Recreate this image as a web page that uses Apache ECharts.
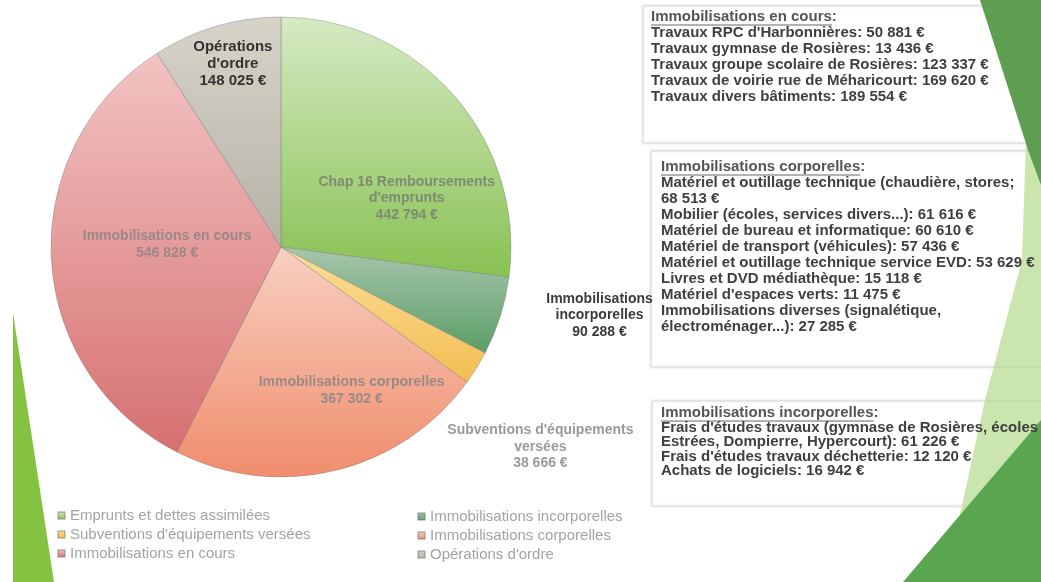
<!DOCTYPE html>
<html>
<head>
<meta charset="utf-8">
<script src="https://cdn.jsdelivr.net/npm/echarts@6/dist/echarts.min.js"></script>
<style>
  html, body { margin: 0; padding: 0; background: #fff; }
  #main { width: 1041px; height: 582px; }
</style>
</head>
<body>
<div id="main"></div>
<script>
// slices, clockwise from 12 o'clock
const sliceNames = ['Emprunts et dettes assimilées', 'Immobilisations incorporelles', "Subventions d'équipements versées",
  'Immobilisations corporelles', 'Immobilisations en cours', "Opérations d'ordre"];
const sliceValues = [442794, 90288, 38666, 367302, 546828, 148025];
const sliceLabels = ["Chap 16 Remboursements\nd'emprunts", 'Immobilisations\nincorporelles', "Subventions d'équipements\nversées",
  'Immobilisations corporelles', 'Immobilisations en cours', "Opérations\nd'ordre"];

// detail boxes on the right
const box1Title = 'Immobilisations en cours';
const box1Lines = ["Travaux RPC d'Harbonnières: 50 881 €", 'Travaux gymnase de Rosières: 13 436 €',
  'Travaux groupe scolaire de Rosières: 123 337 €', 'Travaux de voirie rue de Méharicourt: 169 620 €',
  'Travaux divers bâtiments: 189 554 €'];
const box2Title = 'Immobilisations corporelles';
const box2Lines = ['Matériel et outillage technique (chaudière, stores;', '68 513 €',
  'Mobilier (écoles, services divers...): 61 616 €', 'Matériel de bureau et informatique: 60 610 €',
  'Matériel de transport (véhicules): 57 436 €', 'Matériel et outillage technique service EVD: 53 629 €',
  'Livres et DVD médiathèque: 15 118 €', "Matériel d'espaces verts: 11 475 €",
  'Immobilisations diverses (signalétique,', 'électroménager...): 27 285 €'];
const box3Title = 'Immobilisations incorporelles';
const box3Lines = ["Frais d'études travaux (gymnase de Rosières, écoles", 'Estrées, Dompierre, Hypercourt): 61 226 €',
  "Frais d'études travaux déchetterie: 12 120 €", 'Achats de logiciels: 16 942 €'];

// styling (kept apart from the data)
const colorTop = ['#d6eac4', '#a8c6ad', '#fbdf98', '#f8d0c2', '#f3c3c3', '#d6d3c9'];
const colorBottom = ['#88c152', '#5b9d66', '#f2bd52', '#f08d6c', '#d67070', '#b6b2a6'];
const labelColor = ['#7d8c72', '#3a3a3a', '#9a9a9a', '#9a8a84', '#9c8787', '#333333'];
const labelShift = [[37, 29], [206, 33], [159, 138], [43, 29], [4, -8], [-15, -70]];

const FONT = '"Liberation Sans", Arial, sans-serif';

const fmt = (v) => String(v).replace(/\B(?=(\d{3})+(?!\d))/g, ' ');

const measure = (txt, font) => {
  const ctx = document.createElement('canvas').getContext('2d');
  ctx.font = font;
  return ctx.measureText(txt).width;
};

const myChart = echarts.init(document.getElementById('main'));

const pieData = sliceNames.map((n, i) => ({
  name: n,
  value: sliceValues[i],
  itemStyle: {
    color: new echarts.graphic.LinearGradient(0, 0, 0, 1, [
      { offset: 0, color: colorTop[i] },
      { offset: 1, color: colorBottom[i] }
    ])
  },
  label: {
    color: labelColor[i],
    fontSize: i === 5 ? 15 : 14,
    lineHeight: i === 5 ? 17 : 16.5
  }
}));

// one detail box: frame, underlined title, body lines
const makeBox = (title, lines, x, y, w, h, textX, titleY, lh) => {
  const boxFont = 'bold 15px ' + FONT;
  const tw = measure(title, boxFont);
  return [
    {
      type: 'rect', z: 1,
      shape: { x: x, y: y, width: w, height: h },
      style: { fill: '#fff', stroke: '#d9d9d9', lineWidth: 1, shadowBlur: 3, shadowColor: 'rgba(0,0,0,0.12)' }
    },
    {
      type: 'text', z: 10, x: textX, y: titleY,
      style: { text: title, fill: '#555', font: boxFont, verticalAlign: 'middle' }
    },
    {
      type: 'text', z: 10, x: textX + tw, y: titleY,
      style: { text: ':', fill: '#555', font: boxFont, verticalAlign: 'middle' }
    },
    {
      type: 'line', z: 10,
      shape: { x1: textX, y1: titleY + 8, x2: textX + tw, y2: titleY + 8 },
      style: { stroke: '#666', lineWidth: 1 }
    },
    {
      type: 'text', z: 10, x: textX, y: titleY + lh / 2,
      style: { text: lines.join('\n'), fill: '#3f3f3f', font: boxFont, lineHeight: lh, verticalAlign: 'top' }
    }
  ];
};

const decorations = [
  { type: 'polygon', z: 0, shape: { points: [[13, 313], [13, 582], [54, 582]] }, style: { fill: '#84c341' } },
  { type: 'polygon', z: 5, shape: { points: [[1026, 140], [1041, 140], [1041, 425], [950, 560], [985, 400], [1022, 260]] },
    style: { fill: 'rgba(180,220,140,0.7)' } },
  { type: 'polygon', z: 5, shape: { points: [[980, 0], [1041, 0], [1041, 185], [1028, 150]] }, style: { fill: '#5e9e50' } },
  { type: 'polygon', z: 5, shape: { points: [[1041, 420], [1041, 582], [903, 582]] }, style: { fill: '#5aa650' } }
];

const option = {
  backgroundColor: '#fff',
  animation: false,
  textStyle: { fontFamily: FONT },
  legend: [
    {
      orient: 'vertical', left: 52, top: 503, itemGap: 4,
      icon: 'rect', itemWidth: 7, itemHeight: 7,
      data: [sliceNames[0], sliceNames[2], sliceNames[4]],
      textStyle: { color: '#a3a3a3', fontSize: 15, fontFamily: FONT }
    },
    {
      orient: 'vertical', left: 412, top: 504, itemGap: 4,
      icon: 'rect', itemWidth: 7, itemHeight: 7,
      data: [sliceNames[1], sliceNames[3], sliceNames[5]],
      textStyle: { color: '#a3a3a3', fontSize: 15, fontFamily: FONT }
    }
  ],
  graphic: {
    elements: [].concat(
      decorations,
      makeBox(box1Title, box1Lines, 643, 6, 420, 137, 651, 17, 16),
      makeBox(box2Title, box2Lines, 651, 151, 400, 216, 661, 167, 16),
      makeBox(box3Title, box3Lines, 652, 401, 400, 105, 661, 413, 14.5)
    )
  },
  series: [
    {
      type: 'pie',
      center: [281, 247],
      radius: 230,
      startAngle: 90,
      clockwise: true,
      avoidLabelOverlap: false,
      emphasis: { disabled: true },
      itemStyle: { borderColor: 'rgba(110,110,110,0.35)', borderWidth: 1 },
      label: {
        show: true,
        position: 'inside',
        fontWeight: 'bold',
        fontFamily: FONT,
        align: 'center',
        formatter: (p) => sliceLabels[p.dataIndex] + '\n' + fmt(p.value) + ' €'
      },
      labelLine: { show: false },
      labelLayout: (params) => ({
        dx: labelShift[params.dataIndex][0],
        dy: labelShift[params.dataIndex][1]
      }),
      data: pieData
    }
  ]
};

myChart.setOption(option);
</script>
</body>
</html>
